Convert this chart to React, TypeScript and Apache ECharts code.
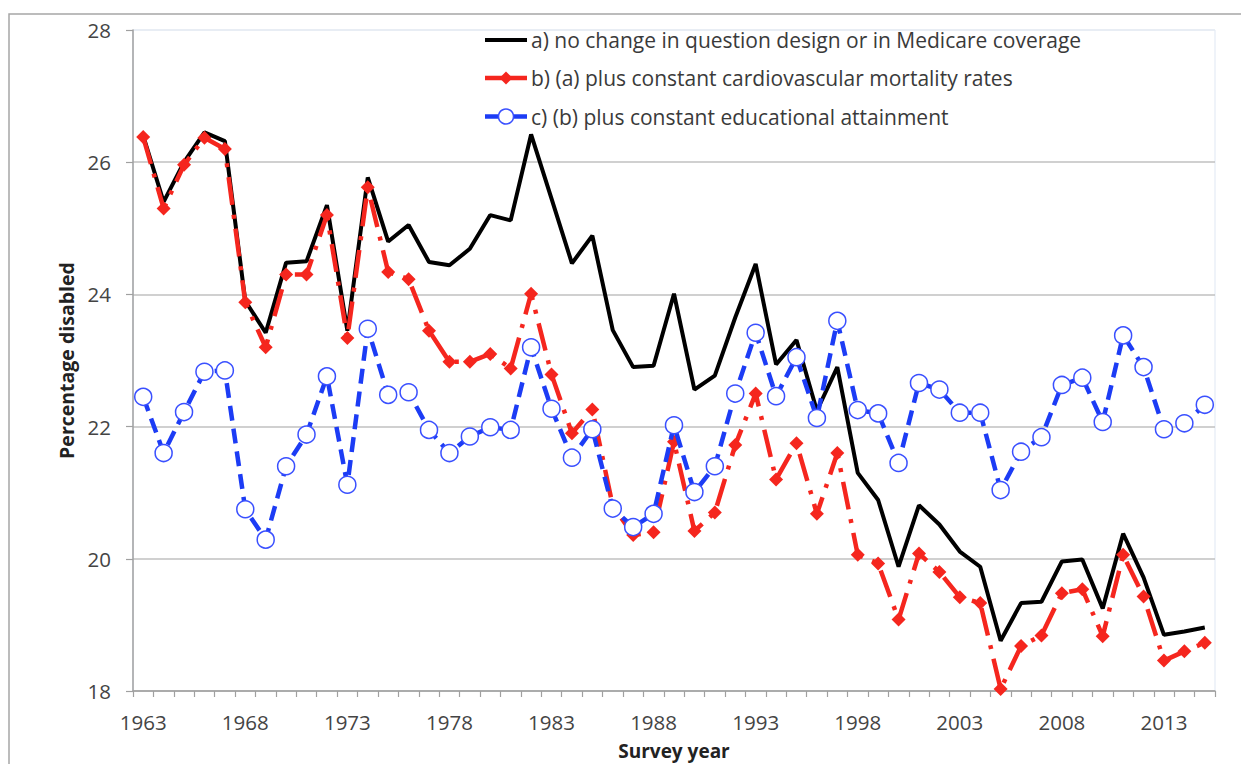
import React, { useEffect, useRef } from "react";
import * as echarts from "echarts";

const years = [
  "1963", "1964", "1965", "1966", "1967", "1968", "1969", "1970", "1971", "1972",
  "1973", "1974", "1975", "1976", "1977", "1978", "1979", "1980", "1981", "1982",
  "1983", "1984", "1985", "1986", "1987", "1988", "1989", "1990", "1991", "1992",
  "1993", "1994", "1995", "1996", "1997", "1998", "1999", "2000", "2001", "2002",
  "2003", "2004", "2005", "2006", "2007", "2008", "2009", "2010", "2011", "2012",
  "2013", "2014", "2015",
];

const seriesNames = [
  "a) no change in question design or in Medicare coverage",
  "b) (a) plus constant cardiovascular mortality rates",
  "c) (b) plus constant educational attainment",
];

const noChange = [
  26.4, 25.4, 26.0, 26.45, 26.32, 23.9, 23.42, 24.48, 24.5, 25.35,
  23.45, 25.77, 24.8, 25.05, 24.49, 24.44, 24.69, 25.2, 25.12, 26.42,
  25.45, 24.47, 24.89, 23.46, 22.9, 22.92, 24.01, 22.56, 22.77, 23.65,
  24.46, 22.94, 23.31, 22.24, 22.9, 21.3, 20.89, 19.88, 20.81, 20.52,
  20.11, 19.88, 18.76, 19.33, 19.35, 19.96, 19.99, 19.25, 20.38, 19.72,
  18.85, 18.9, 18.96,
];

const cardio = [
  26.38, 25.3, 25.96, 26.37, 26.2, 23.88, 23.2, 24.3, 24.3, 25.2,
  23.34, 25.62, 24.34, 24.23, 23.45, 22.98, 22.98, 23.1, 22.88, 24.01,
  22.79, 21.9, 22.26, 20.8, 20.36, 20.4, 21.77, 20.42, 20.7, 21.72,
  22.5, 21.2, 21.75, 20.68, 21.6, 20.06, 19.93, 19.08, 20.08, 19.8,
  19.42, 19.33, 18.03, 18.68, 18.84, 19.48, 19.54, 18.83, 20.06, 19.43,
  18.46, 18.6, 18.73,
];

const education = [
  22.45, 21.6, 22.22, 22.83, 22.85, 20.75, 20.29, 21.4, 21.88, 22.76,
  21.12, 23.48, 22.48, 22.52, 21.95, 21.6, 21.85, 21.99, 21.95, 23.2,
  22.27, 21.53, 21.96, 20.76, 20.48, 20.68, 22.02, 21.01, 21.4, 22.5,
  23.42, 22.46, 23.05, 22.13, 23.6, 22.25, 22.2, 21.45, 22.66, 22.56,
  22.21, 22.21, 21.04, 21.62, 21.84, 22.63, 22.74, 22.07, 23.38, 22.9,
  21.96, 22.05, 22.33,
];

const yTicks = { min: 18, max: 28, interval: 2 };

const BLACK = "#000000";
const RED = "#f5261e";
const BLUE = "#1c3cf5";
const BLUE_RING = "#3a50ff";

export default function App() {
  const ref = useRef<HTMLDivElement>(null);

  useEffect(() => {
    document.body.style.margin = "0";
    if (!ref.current) return;
    const chart = echarts.init(ref.current, null, { renderer: "svg" });
    const font = "'Open Sans', 'Liberation Sans', sans-serif";

    const legendX = 485;
    const legendW = 42;
    const rowsY = [40, 78, 116.5];
    const legendText = (i: number) => ({
      type: "text",
      x: 531,
      y: rowsY[i],
      silent: true,
      style: {
        text: seriesNames[i],
        fill: "#3a3a3a",
        fontSize: 21,
        fontFamily: font,
        verticalAlign: "middle",
        align: "left",
      },
      z: 100,
    });
    const legendLine = (i: number, color: string, w: number) => ({
      type: "line",
      silent: true,
      shape: { x1: legendX, y1: rowsY[i], x2: legendX + legendW, y2: rowsY[i] },
      style: { stroke: color, lineWidth: w },
      z: 100,
    });
    const cx = legendX + legendW / 2;

    chart.setOption({
      animation: false,
      backgroundColor: "#ffffff",
      textStyle: { fontFamily: font },
      graphic: [
        {
          type: "rect",
          shape: { x: 9, y: 14, width: 1300, height: 800 },
          style: { fill: "none", stroke: "#a6a6a6", lineWidth: 1.5 },
          silent: true,
          z: -10,
        },
        legendLine(0, BLACK, 4),
        legendText(0),
        legendLine(1, RED, 4.5),
        {
          type: "polygon",
          silent: true,
          shape: {
            points: [
              [cx, rowsY[1] - 6.5],
              [cx + 6.5, rowsY[1]],
              [cx, rowsY[1] + 6.5],
              [cx - 6.5, rowsY[1]],
            ],
          },
          style: { fill: RED },
          z: 101,
        },
        legendText(1),
        legendLine(2, BLUE, 4.5),
        {
          type: "circle",
          silent: true,
          shape: { cx, cy: rowsY[2], r: 7.5 },
          style: { fill: "#ffffff", stroke: BLUE_RING, lineWidth: 1.5 },
          z: 101,
        },
        legendText(2),
      ],
      grid: {
        left: 133,
        right: 26,
        top: 30,
        bottom: 73,
        outerBoundsMode: "none",
        containLabel: false,
        show: true,
        borderColor: "#dfe7f3",
        borderWidth: 1,
      },
      xAxis: {
        type: "category",
        data: years,
        boundaryGap: true,
        name: "Survey year",
        nameLocation: "middle",
        nameGap: 49,
        nameTextStyle: { fontSize: 19, fontWeight: "bold", color: "#222", fontFamily: font, lineHeight: 22 },
        axisLine: { lineStyle: { color: "#a0a0a0", width: 1.5 } },
        axisTick: { show: true, interval: 0, length: 6, lineStyle: { color: "#a0a0a0", width: 1.2 } },
        axisLabel: { interval: 4, fontSize: 20.5, color: "#444", margin: 20, fontFamily: font },
        splitLine: { show: false },
      },
      yAxis: {
        type: "value",
        min: yTicks.min,
        max: yTicks.max,
        interval: yTicks.interval,
        name: "Percentage disabled",
        nameLocation: "middle",
        nameGap: 55,
        nameRotate: 90,
        nameTextStyle: { fontSize: 19.5, fontWeight: "bold", color: "#222", fontFamily: font },
        axisLine: { show: true, lineStyle: { color: "#a0a0a0", width: 1.5 } },
        axisTick: { show: true, length: 7, lineStyle: { color: "#a0a0a0", width: 1.2 } },
        axisLabel: { fontSize: 20.5, color: "#444", margin: 22, fontFamily: font },
        splitLine: {
          show: true,
          lineStyle: {
            color: ["#c0c0c0", "#c0c0c0", "#c0c0c0", "#c0c0c0", "#c0c0c0", "#e6ebf2"],
            width: 1.5,
          },
        },
      },
      series: [
        {
          name: seriesNames[0],
          type: "line",
          data: noChange,
          symbol: "none",
          lineStyle: { color: BLACK, width: 4 },
          itemStyle: { color: BLACK },
          z: 2,
        },
        {
          name: seriesNames[1],
          type: "line",
          data: cardio,
          symbol: "diamond",
          symbolSize: 14,
          showAllSymbol: true,
          lineStyle: { color: RED, width: 4.5, type: [28, 10, 4, 10], cap: "butt" },
          itemStyle: { color: RED, borderWidth: 0 },
          z: 3,
        },
        {
          name: seriesNames[2],
          type: "line",
          data: education,
          symbol: "circle",
          symbolSize: 17,
          showAllSymbol: true,
          lineStyle: { color: BLUE, width: 4.5, type: [15, 8], cap: "butt" },
          itemStyle: { color: "#ffffff", borderColor: BLUE_RING, borderWidth: 1.5 },
          z: 4,
        },
      ],
    });
    return () => chart.dispose();
  }, []);

  return <div ref={ref} style={{ width: 1241, height: 764 }} />;
}
